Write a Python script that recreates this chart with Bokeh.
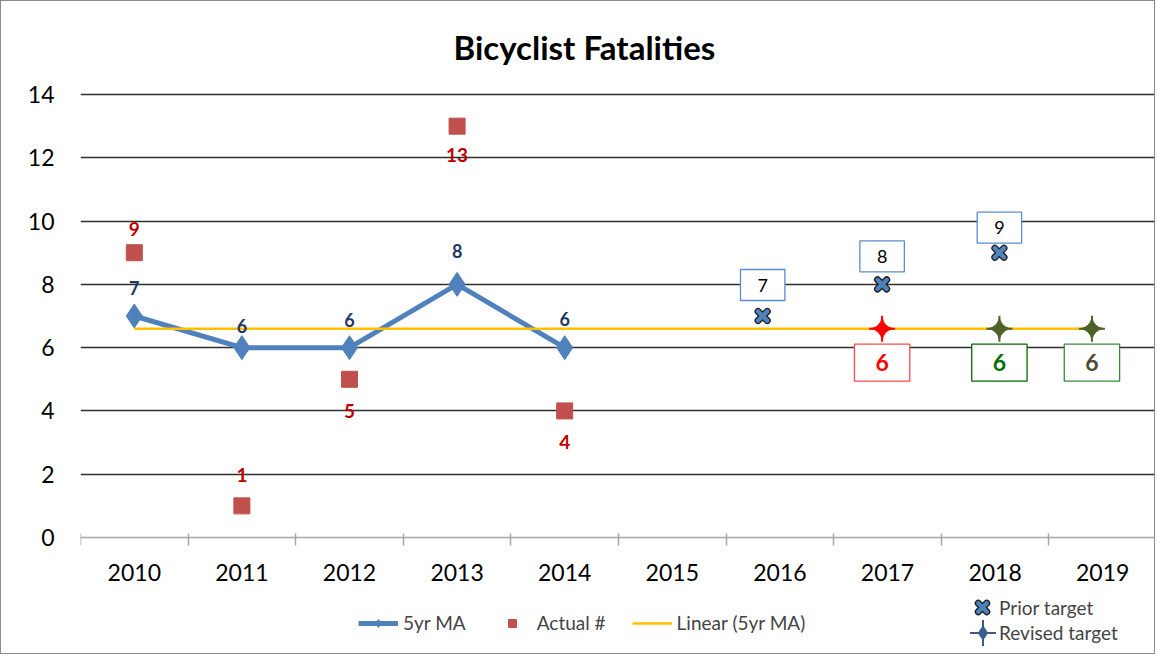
import math
from bokeh.plotting import figure
from bokeh.models import ColumnDataSource, Range1d, FixedTicker, Legend, LegendItem
from bokeh.core.properties import value
from bokeh.embed import file_html
from bokeh.resources import INLINE

# ---------------- data ----------------
years = [2010, 2011, 2012, 2013, 2014, 2015, 2016, 2017, 2018, 2019]
year_labels = ["2010", "2011", "2012", "2013", "2014", "2015", "2016", "2017", "2018", "2019"]
y_ticks = [0, 2, 4, 6, 8, 10, 12, 14]

ma_years = [2010, 2011, 2012, 2013, 2014]
ma_values = [7.0, 6.0, 6.0, 8.0, 6.0]
ma_labels = ["7", "6", "6", "8", "6"]

actual_years = [2010, 2011, 2012, 2013, 2014]
actual_values = [9, 1, 5, 13, 4]
actual_labels = ["9", "1", "5", "13", "4"]

trend_years = [2010, 2019]
trend_values = [6.6, 6.6]

# target series sit slightly off the category centres in the original
prior_x = [2015.84, 2016.95, 2018.04]
prior_values = [7.0, 8.0, 9.0]
prior_labels = ["7", "8", "9"]

revised_x = [2016.95, 2018.04, 2018.90]
revised_values = [6.6, 6.6, 6.6]
revised_labels = ["6", "6", "6"]

# ---------------- layout / style lists ----------------
ma_label_dy = [-28, -22, -28, -33, -29]
actual_label_dy = [-24, -31, 32, 29, 31]
prior_label_dy = [-31, -28, -25]
revised_marker_colors = ["#FF0000", "#4F6228", "#4F6228"]
revised_text_colors = ["#FF0000", "#007000", "#4D4A2C"]
revised_box_colors = ["#FF4A4A", "#006A00", "#3A8A3A"]

FONT = "Lato"
BLUE = "#4F81BD"
STAR_BLUE = "#385D8A"
NAN = float("nan")

# the frame reaches down to the bottom edge so that the legends (drawn inside it) are not clipped;
# the category axis is pinned at y = 0
p = figure(width=1155, height=654,
           x_range=Range1d(2009.5, 2019.5), y_range=Range1d(-3.729, 14.158),
           output_backend="svg", toolbar_location=None,
           min_border_left=79, min_border_right=0, min_border_top=88, min_border_bottom=0)
p.styles = {"border": "1px solid #8a8a8a"}
p.outline_line_color = None

p.title.text = "Bicyclist Fatalities"
p.title.align = "left"
p.title.text_font = FONT
p.title.text_font_size = "33px"
p.title.text_font_style = "bold"
p.title.text_color = "black"
p.title.offset = 373
p.title.standoff = 46

# axes
xa = p.xaxis[0]
xa.fixed_location = 0
xa.ticker = FixedTicker(ticks=years, minor_ticks=[y - 0.5 for y in years] + [years[-1] + 0.5])
xa.major_label_overrides = {y: s for y, s in zip(years, year_labels)}
xa.major_tick_line_color = None
xa.major_tick_in = 0
xa.major_tick_out = 0
xa.minor_tick_line_color = "#A6A6A6"
xa.minor_tick_line_width = 1.5
xa.minor_tick_in = 4
xa.minor_tick_out = 8
xa.axis_line_color = "#A6A6A6"
xa.axis_line_width = 1.5
xa.major_label_text_font = FONT
xa.major_label_text_font_size = "23px"
xa.major_label_text_color = "black"
xa.major_label_standoff = 18

ya = p.yaxis[0]
ya.ticker = FixedTicker(ticks=y_ticks)
ya.axis_line_color = None
ya.major_tick_line_color = None
ya.minor_tick_line_color = None
ya.major_tick_in = 0
ya.major_tick_out = 0
ya.major_label_text_font = FONT
ya.major_label_text_font_size = "23px"
ya.major_label_text_color = "black"
ya.major_label_standoff = 26

p.xgrid.visible = False
p.ygrid.ticker = FixedTicker(ticks=y_ticks[1:])
p.ygrid.grid_line_color = "#2E2E2E"
p.ygrid.grid_line_width = 1.3

# sources
ma_src = ColumnDataSource(dict(x=ma_years, y=ma_values, label=ma_labels, dy=ma_label_dy))
act_src = ColumnDataSource(dict(x=actual_years, y=actual_values, label=actual_labels, dy=actual_label_dy))
trend_src = ColumnDataSource(dict(x=trend_years, y=trend_values))
prior_src = ColumnDataSource(dict(x=prior_x, y=prior_values, label=prior_labels, dy=prior_label_dy))
rev_src = ColumnDataSource(dict(x=revised_x, y=revised_values, label=revised_labels,
                                mc=revised_marker_colors, tc=revised_text_colors, bc=revised_box_colors))

# series
r_ma_line = p.line("x", "y", source=ma_src, line_color=BLUE, line_width=5)
r_ma_pts = p.scatter("x", "y", source=ma_src, marker="diamond", size=24,
                     fill_color=BLUE, line_color=BLUE)
r_act = p.scatter("x", "y", source=act_src, marker="square", size=16,
                  fill_color="#C0504D", line_color="#C0504D")
r_trend = p.line("x", "y", source=trend_src, line_color="#FFC000", line_width=2.5)

r_prior_bg = p.scatter("x", "y", source=prior_src, marker="x", size=13, line_width=7,
                       line_color="#1A1A1A", line_cap="round")
r_prior = p.scatter("x", "y", source=prior_src, marker="x", size=13, line_width=4.5,
                    line_color=BLUE, line_cap="round")

r_rev_pin = p.scatter("x", "y", source=rev_src, marker="square_pin", size=15, angle=math.pi / 4,
                      fill_color="mc", line_color="mc")
r_rev_cross = p.scatter("x", "y", source=rev_src, marker="cross", size=26, line_width=2,
                        line_color="mc")

# legend-only proxies for the revised target series colour (no visible point)
proxy_src = ColumnDataSource(dict(x=[NAN], y=[NAN]))
r_proxy_cross = p.scatter("x", "y", source=proxy_src, marker="cross", size=26, line_width=2,
                          line_color=STAR_BLUE)
r_proxy_core = p.scatter("x", "y", source=proxy_src, marker="diamond", size=12,
                         fill_color=STAR_BLUE, line_color=STAR_BLUE)
r_proxy_blank = p.scatter("x", "y", source=proxy_src, marker="square", size=5,
                          fill_alpha=0, line_alpha=0)

# data labels
p.text("x", "y", text="label", source=ma_src, y_offset="dy", text_align="center",
       text_baseline="middle", text_font=value(FONT), text_font_style="bold",
       text_font_size="18px", text_color="#1F3864")
p.text("x", "y", text="label", source=act_src, y_offset="dy", text_align="center",
       text_baseline="middle", text_font=value(FONT), text_font_style="bold",
       text_font_size="19px", text_color="#C00000")
p.text("x", "y", text="label", source=prior_src, y_offset="dy", text_align="center",
       text_baseline="middle", text_font=value(FONT), text_font_size="18px", text_color="black",
       background_fill_color="white", border_line_color="#5B8BD0", border_line_width=1.3,
       padding=dict(left=17, right=17, top=9, bottom=9))
p.text("x", "y", text="label", source=rev_src, y_offset=34, text_align="center",
       text_baseline="middle", text_font=value(FONT), text_font_style="bold",
       text_font_size="23px", text_color="tc",
       background_fill_color="white", border_line_color="bc", border_line_width=1.3,
       padding=dict(left=21, right=21, top=10, bottom=10))

# legends
common = dict(padding=0, margin=0, label_text_font=FONT, border_line_color=None,
              background_fill_alpha=0)
leg1 = Legend(items=[LegendItem(label="5yr MA", renderers=[r_ma_line, r_ma_pts]),
                     LegendItem(label="Actual #", renderers=[r_act]),
                     LegendItem(label="Linear (5yr MA)", renderers=[r_trend])],
              orientation="horizontal", location=(278, 21), spacing=26,
              glyph_width=40, glyph_height=20, label_standoff=5,
              label_text_font_size="19px", **common)
leg_prior = Legend(items=[LegendItem(label="Prior target", renderers=[r_prior_bg, r_prior])],
                   orientation="vertical", location=(887, 33),
                   glyph_width=30, glyph_height=30, label_standoff=2,
                   label_text_font_size="19px", **common)
leg_rev = Legend(items=[LegendItem(label="Revised target", renderers=[r_proxy_blank])],
                 orientation="vertical", location=(887, 8),
                 glyph_width=30, glyph_height=30, label_standoff=2,
                 label_text_font_size="19px", **common)
# star glyph = long thin cross (big glyph box) + small diamond core (small glyph box), same centre
leg_rev_cross = Legend(items=[LegendItem(label=" ", renderers=[r_proxy_cross])],
                       orientation="vertical", location=(869.5, -9.5),
                       glyph_width=65, glyph_height=65, label_standoff=0,
                       label_text_font_size="19px", **common)
leg_rev_core = Legend(items=[LegendItem(label=" ", renderers=[r_proxy_core])],
                      orientation="vertical", location=(884.5, 5.5),
                      glyph_width=35, glyph_height=35, label_standoff=0,
                      label_text_font_size="19px", **common)
p.add_layout(leg1)
p.add_layout(leg_prior)
p.add_layout(leg_rev)
p.add_layout(leg_rev_cross)
p.add_layout(leg_rev_core)

open("out.html", "w").write(file_html(p, INLINE))
